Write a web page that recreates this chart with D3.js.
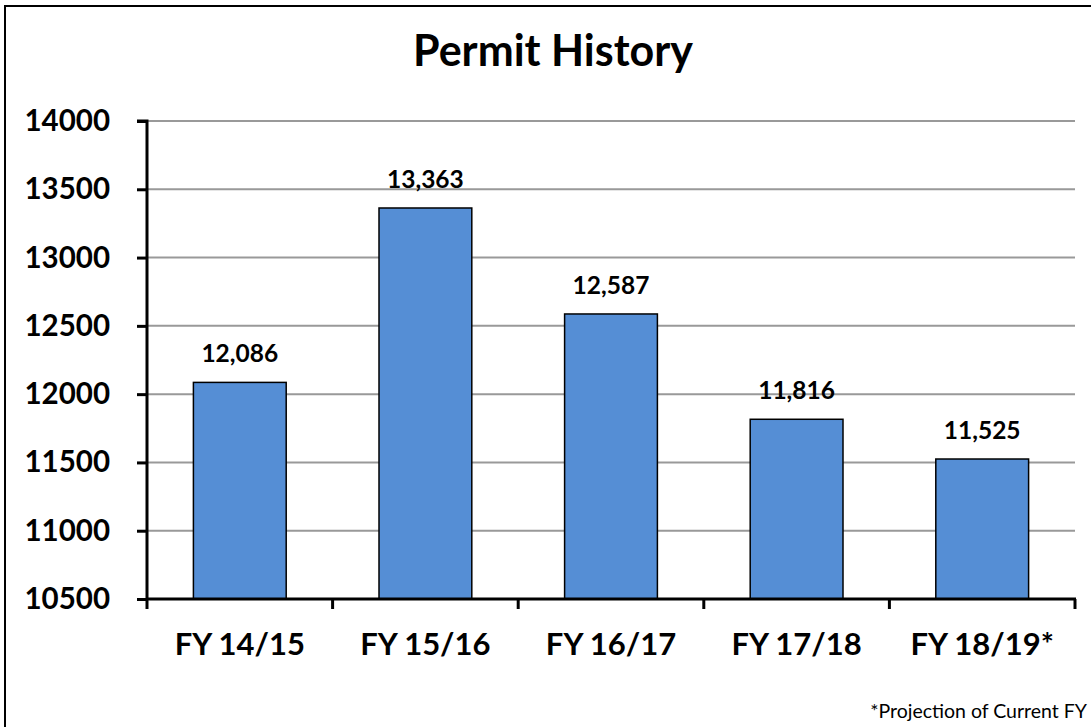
<!DOCTYPE html>
<html>
<head>
<meta charset="utf-8">
<script src="https://cdn.jsdelivr.net/npm/d3@7"></script>
<style>
  body { margin: 0; background: #fff; }
  text { font-family: Lato, "Open Sans", sans-serif; }
</style>
</head>
<body>
<svg id="chart" width="1091" height="727"></svg>
<script>
// data
var categories = ["FY 14/15", "FY 15/16", "FY 16/17", "FY 17/18", "FY 18/19*"];
var permits = [12086, 13363, 12587, 11816, 11525];
var yTicks = [10500, 11000, 11500, 12000, 12500, 13000, 13500, 14000];

var svg = d3.select("#chart");
var margin = {left: 147, right: 1075, top: 121, bottom: 599};

// outer border, runs off the right and bottom edges
svg.append("rect")
    .attr("x", 5).attr("y", 6)
    .attr("width", 1100).attr("height", 740)
    .attr("fill", "none").attr("stroke", "#000").attr("stroke-width", 2);

var x = d3.scaleBand()
    .domain(categories)
    .range([margin.left, margin.right])
    .paddingInner(0.5).paddingOuter(0.25);

var y = d3.scaleLinear()
    .domain([10500, 14000])
    .range([margin.bottom, margin.top]);

// gridlines
svg.append("g")
    .selectAll("line")
    .data(yTicks.slice(1))
    .join("line")
    .attr("x1", margin.left).attr("x2", margin.right)
    .attr("y1", d => y(d)).attr("y2", d => y(d))
    .attr("stroke", "#999").attr("stroke-width", 2);

// bars
svg.append("g")
    .selectAll("rect")
    .data(permits)
    .join("rect")
    .attr("x", (d, i) => x(categories[i]))
    .attr("y", d => y(d))
    .attr("width", x.bandwidth())
    .attr("height", d => y(10500) - y(d))
    .attr("fill", "#558ed5")
    .attr("stroke", "#000").attr("stroke-width", 1.5);

// value labels
svg.append("g")
    .selectAll("text")
    .data(permits)
    .join("text")
    .attr("x", (d, i) => x(categories[i]) + x.bandwidth() / 2)
    .attr("y", d => y(d) - 20)
    .attr("text-anchor", "middle")
    .attr("font-size", 24.5).attr("font-weight", "bold")
    .text(d => d3.format(",")(d));

// y axis
var yAxis = d3.axisLeft(y).tickValues(yTicks).tickSize(10).tickPadding(27).tickFormat(d3.format("d"));
var gy = svg.append("g")
    .attr("transform", "translate(" + margin.left + ",0)")
    .call(yAxis);
gy.select(".domain").attr("stroke-width", 3).attr("d", "M-10," + margin.top + "H0V" + margin.bottom);
gy.selectAll(".tick line").attr("stroke-width", 3);
gy.selectAll("text")
    .attr("font-size", 29.5).attr("font-weight", "bold")
    .attr("font-family", "Lato, sans-serif").attr("fill", "#000");

// x axis: ticks at the band edges
var edges = categories.map(c => x(c) - x.step() * x.paddingInner() / 2).concat([margin.right]);
svg.append("line")
    .attr("x1", margin.left).attr("x2", margin.right + 1)
    .attr("y1", margin.bottom).attr("y2", margin.bottom)
    .attr("stroke", "#000").attr("stroke-width", 3);
svg.append("g")
    .selectAll("line")
    .data(edges)
    .join("line")
    .attr("x1", d => d).attr("x2", d => d)
    .attr("y1", margin.bottom).attr("y2", margin.bottom + 10)
    .attr("stroke", "#000").attr("stroke-width", 3);

svg.append("g")
    .selectAll("text")
    .data(categories)
    .join("text")
    .attr("x", d => x(d) + x.bandwidth() / 2)
    .attr("y", 655)
    .attr("text-anchor", "middle")
    .attr("font-size", 31).attr("font-weight", "bold")
    .text(d => d);

// title
svg.append("text")
    .attr("x", 553).attr("y", 66)
    .attr("text-anchor", "middle")
    .attr("font-size", 43).attr("font-weight", "bold")
    .text("Permit History");

// footnote (kept inside the picture)
svg.append("text")
    .attr("x", 1087).attr("y", 718)
    .attr("text-anchor", "end")
    .attr("font-size", 19.5)
    .text("*Projection of Current FY");
</script>
</body>
</html>
